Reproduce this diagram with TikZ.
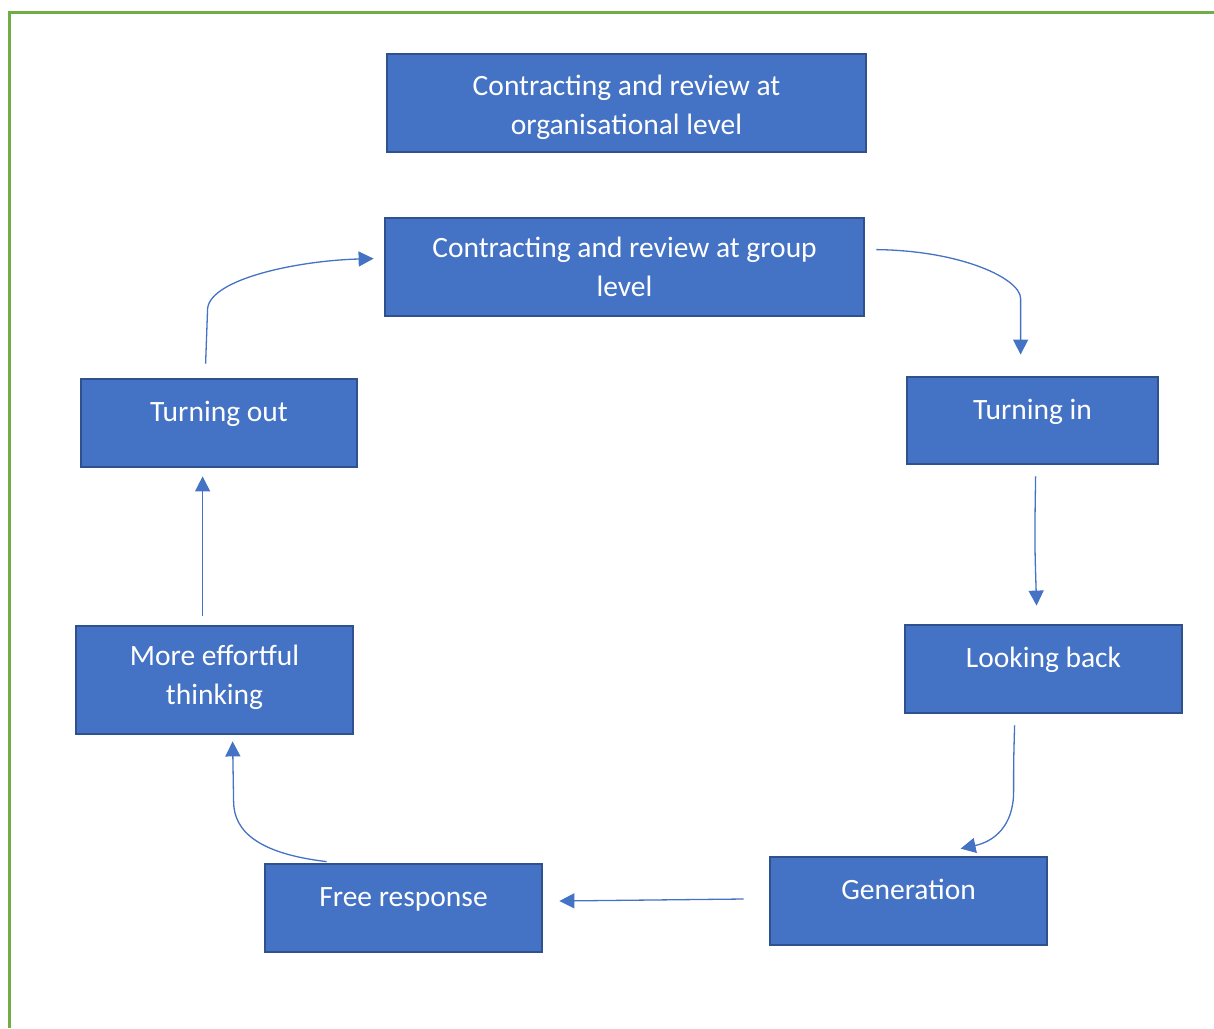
\documentclass[tikz,border=0pt]{standalone}
\usepackage{fontspec}
\setmainfont{Carlito}
\usetikzlibrary{arrows.meta,calc}
\definecolor{boxfill}{HTML}{4472C4}
\definecolor{boxline}{HTML}{2F528F}
\definecolor{arrowc}{HTML}{4472C4}
\definecolor{frame}{HTML}{70AD47}
\begin{document}
\begin{tikzpicture}[x=1pt,y=-1pt,
  box/.style={draw=boxline,fill=boxfill,line width=2.8pt,text=white,align=center,
    font=\fontsize{29.5}{39}\selectfont,inner sep=0pt},
  onebox/.style={box,text height=20pt,text depth=23pt},
  flow/.style={draw=arrowc,line width=1.3pt,-{Triangle[length=15pt,width=15pt]}}]
\useasboundingbox (0,0) rectangle (1214,1028);
\draw[frame,line width=3pt] (1214,12.5) -- (9.5,12.5) -- (9.5,1028);
\node[box,text depth=0pt,text height=62pt,minimum width=479,minimum height=98] (org) at (626.5,103) {Contracting and review at\\organisational level};
\node[box,minimum width=479,minimum height=98] (grp) at (624.5,267) {Contracting and review at group\\level};
\node[onebox,minimum width=276,minimum height=88] (tout) at (219,423) {Turning out};
\node[onebox,minimum width=251,minimum height=87] (tin) at (1032.5,420.5) {Turning in};
\node[onebox,minimum width=277,minimum height=88] (lb) at (1043.5,669) {Looking back};
\node[box,text depth=10pt,minimum width=277,minimum height=108] (mef) at (214.5,680) {More effortful\\thinking};
\node[onebox,minimum width=277,minimum height=88] (fr) at (403.5,908) {Free response};
\node[onebox,minimum width=277,minimum height=88] (gen) at (908.5,901) {Generation};
% connectors
\draw[flow] ($(grp.north east)+(11,33)$) .. controls ($(grp.north east)+(96,34)$) and ($(tin.north west)+(115,-97)$) .. ($(tin.north west)+(115,-77)$) -- ($(tin.north west)+(115,-21)$);
\draw[flow] ($(tin.south west)+(130,11)$) .. controls ($(tin.south west)+(129,76)$) .. ($(lb.north west)+(133,-18)$);
\draw[flow] ($(lb.south west)+(111,11)$) .. controls ($(lb.south west)+(110,47)$) .. ($(lb.south west)+(110,77)$) .. controls ($(lb.south west)+(110,112)$) and ($(gen.north west)+(225,-14)$) .. ($(gen.north west)+(192,-7)$);
\draw[flow] ($(gen.west)+(-25,-2)$) -- ($(fr.east)+(16,-7)$);
\draw[flow] ($(fr.north west)+(63,-1)$) .. controls ($(fr.north west)+(-5,-9)$) and ($(mef.south west)+(159,96)$) .. ($(mef.south west)+(159,66)$) -- ($(mef.south west)+(158,6)$);
\draw[flow] ($(mef.north west)+(128,-9)$) -- ($(tout.south west)+(123,8)$);
\draw[flow] ($(tout.north west)+(126,-14)$) -- ($(tout.north west)+(128,-69)$) .. controls ($(tout.north west)+(131,-99)$) and ($(grp.north west)+(-85,44)$) .. ($(grp.north west)+(-10,42)$);
\end{tikzpicture}
\end{document}
